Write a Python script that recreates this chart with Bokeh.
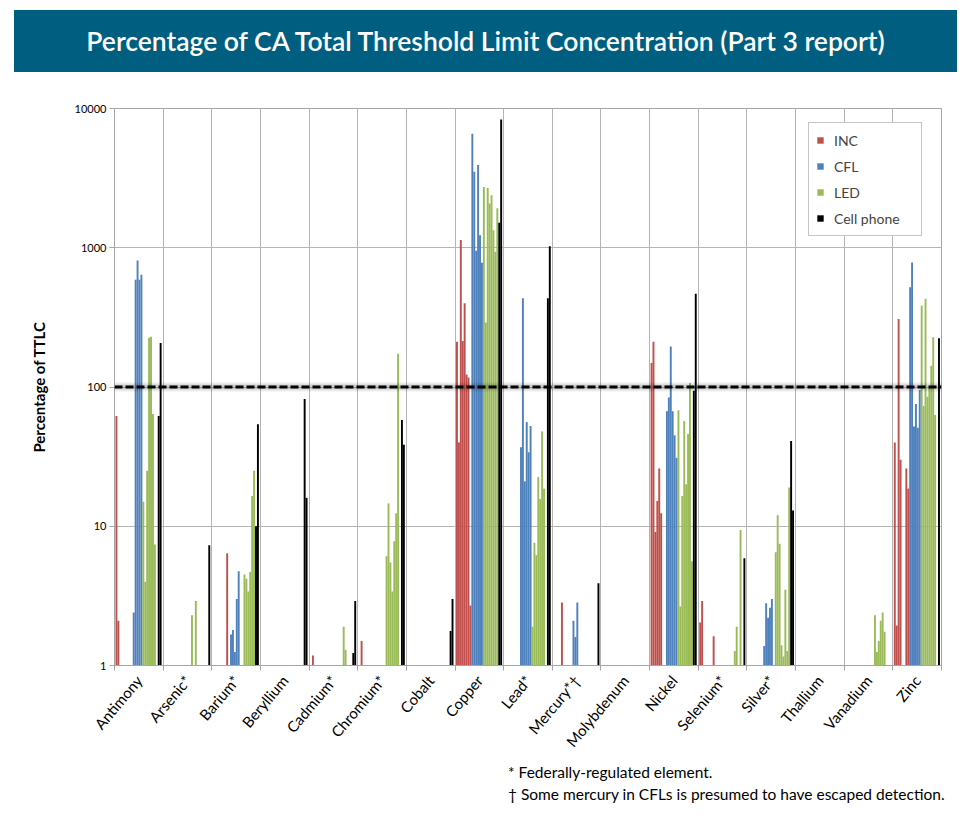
import math
from bokeh.plotting import figure
from bokeh.models import (ColumnDataSource, Range1d, FixedTicker, Span, Legend,
                          LegendItem, Div, PrintfTickFormatter)
from bokeh.layouts import column
from bokeh.embed import file_html
from bokeh.resources import INLINE

title_text = "Percentage of CA Total Threshold Limit Concentration (Part 3 report)"
y_title = "Percentage of TTLC"
note_1 = "* Federally-regulated element."
note_2 = "\u2020 Some mercury in CFLs is presumed to have escaped detection."

elements = ["Antimony", "Arsenic*", "Barium*", "Beryllium", "Cadmium*", "Chromium*",
            "Cobalt", "Copper", "Lead*", "Mercury*\u2020", "Molybdenum", "Nickel",
            "Selenium*", "Silver*", "Thallium", "Vanadium", "Zinc"]
series_names = ["INC", "CFL", "LED", "Cell phone"]
samples_per_series = [8, 6, 8, 2]
series_colors = ["#c0504d", "#4f81bd", "#9bbb59", "#000000"]
threshold = 100
y_ticks = [1, 10, 100, 1000, 10000]

# % of TTLC per sample: INC x8 | CFL x6 | LED x8 | Cell phone x2  (0 = below 1 %)
antimony   = [62, 2.1, 0, 0, 0, 0, 0, 0,        0, 2.4, 590, 810, 590, 640,        15, 4.0, 25, 226, 230, 64, 7.4, 0,      62, 207]
arsenic    = [0, 0, 0, 0, 0, 0, 0, 0,           0, 0, 0, 0, 0, 0,                  2.3, 0, 2.9, 0, 0, 0, 0, 0,              0, 7.3]
barium     = [0, 0, 0, 0, 0, 0, 0, 6.4,         0, 1.67, 1.8, 1.25, 3.0, 4.75,     0, 0, 4.5, 4.2, 3.4, 4.7, 16.5, 25,      10, 54]
beryllium  = [0, 0, 0, 0, 0, 0, 0, 0,           0, 0, 0, 0, 0, 0,                  0, 0, 0, 0, 0, 0, 0, 0,                  82, 16]
cadmium    = [0, 1.18, 0, 0, 0, 0, 0, 0,        0, 0, 0, 0, 0, 0,                  0, 0, 0, 1.9, 1.3, 0, 0, 0,              1.23, 2.9]
chromium   = [0, 1.5, 0, 0, 0, 0, 0, 0,         0, 0, 0, 0, 0, 0,                  6.1, 14.6, 5.5, 3.4, 7.8, 12.4, 173, 0,  58, 38.5]
cobalt     = [0, 0, 0, 0, 0, 0, 0, 0,           0, 0, 0, 0, 0, 0,                  0, 0, 0, 0, 0, 0, 0, 0,                  1.77, 3.0]
copper     = [211, 40, 1135, 214, 400, 123, 117, 2.7,   6600, 3520, 950, 3930, 1230, 780,   2735, 290, 2690, 2075, 2380, 1335, 935, 1920,   1515, 8330]
lead       = [0, 0, 0, 0, 0, 0, 0, 0,           37, 433, 21, 56, 34, 52.5,         1.9, 7.6, 6.2, 22.6, 15.7, 48, 18.6, 0,  433, 1025]
mercury    = [0, 0, 0, 0, 2.84, 0, 0, 0,        0, 0, 2.1, 1.6, 2.84, 0,           0, 0, 0, 0, 0, 0, 0, 0,                  0, 3.9]
molybdenum = [0, 0, 0, 0, 0, 0, 0, 0,           0, 0, 0, 0, 0, 0,                  0, 0, 0, 0, 0, 0, 0, 0,                  0, 0]
nickel     = [149, 211, 9.1, 15.2, 26, 12.4, 0, 0,      67, 84, 195, 67, 45, 31,   68, 2.65, 16.5, 57, 20, 46, 107, 5.6,    94, 468]
selenium   = [2.04, 2.9, 0, 0, 0, 0, 0, 1.62,   0, 0, 0, 0, 0, 0,                  0, 0, 0, 0, 1.27, 1.9, 0, 9.4,           0, 5.9]
silver     = [0, 0, 0, 0, 0, 0, 0, 0,           1.38, 2.8, 2.2, 2.6, 3.0, 0,       6.5, 12, 7.5, 1.4, 1.16, 3.5, 1.27, 19,  41, 13]
thallium   = [0, 0, 0, 0, 0, 0, 0, 0,           0, 0, 0, 0, 0, 0,                  0, 0, 0, 0, 0, 0, 0, 0,                  0, 0]
vanadium   = [0, 0, 0, 0, 0, 0, 0, 0,           0, 0, 0, 0, 0, 0,                  0, 2.3, 1.25, 1.5, 2.1, 2.4, 1.75, 0,    0, 0]
zinc       = [40, 1.94, 308, 30, 0, 0, 26, 18.7,        521, 784, 52, 75.5, 51, 95,   383, 73, 430, 85, 100, 142, 228, 63,   0, 224]

element_values = [antimony, arsenic, barium, beryllium, cadmium, chromium, cobalt,
                  copper, lead, mercury, molybdenum, nickel, selenium, silver,
                  thallium, vanadium, zinc]

slot_w = 0.0395
group_offset = 0.02

FONT = "Lato"

p = figure(width=959, height=681, x_range=Range1d(0, len(elements)),
           y_range=Range1d(1, 10000), y_axis_type="log",
           output_backend="svg", toolbar_location=None,
           min_border_left=114, min_border_right=18, min_border_top=28,
           min_border_bottom=96)
p.outline_line_color = "#a6a6a6"
p.background_fill_color = "white"
p.border_fill_color = "white"

# bars, one renderer per product type
renderers = []
start = 0
for name, count, col in zip(series_names, samples_per_series, series_colors):
    xs, tops = [], []
    for i, vals in enumerate(element_values):
        for k in range(start, start + count):
            v = vals[k]
            if v and v > 1:
                xs.append(i + group_offset + (k + 0.5) * slot_w)
                tops.append(v)
    src = ColumnDataSource(dict(x=xs, top=tops))
    r = p.vbar(x="x", top="top", bottom=1, width=slot_w, source=src,
               fill_color=col, line_color=None)
    renderers.append(r)
    start += count

# threshold line with soft shadow
p.add_layout(Span(location=threshold, dimension="width", line_color="#000000",
                  line_alpha=0.08, line_width=9))
p.add_layout(Span(location=threshold, dimension="width", line_color="#000000",
                  line_alpha=0.12, line_width=5))
p.add_layout(Span(location=threshold, dimension="width", line_color="#000000",
                  line_width=3, line_dash="8 3"))

# axes
boundaries = list(range(len(elements) + 1))
centers = [i + 0.5 for i in range(len(elements))]
p.xaxis.ticker = FixedTicker(ticks=centers, minor_ticks=boundaries)
p.xaxis.major_label_overrides = {c: n for c, n in zip(centers, elements)}
p.xaxis.major_label_orientation = math.radians(50)
p.xaxis.major_tick_line_color = None
p.xaxis.minor_tick_out = 5
p.xaxis.minor_tick_in = 0
p.xaxis.minor_tick_line_color = "#a6a6a6"
p.xaxis.axis_line_color = "#a6a6a6"
p.xaxis.major_label_text_font = FONT
p.xaxis.major_label_text_font_size = "15px"
p.xaxis.major_label_text_color = "#000000"
p.xaxis.major_label_standoff = 6

p.yaxis.ticker = FixedTicker(ticks=y_ticks, minor_ticks=[])
p.yaxis.formatter = PrintfTickFormatter(format="%d")
p.yaxis.major_tick_out = 5
p.yaxis.major_tick_in = 0
p.yaxis.minor_tick_line_color = None
p.yaxis.major_tick_line_color = "#a6a6a6"
p.yaxis.axis_line_color = "#a6a6a6"
p.yaxis.major_label_text_font = FONT
p.yaxis.major_label_text_font_size = "11px"
p.yaxis.major_label_text_color = "#000000"
p.yaxis.major_label_standoff = 3
p.yaxis.axis_label = y_title
p.yaxis.axis_label_text_font = FONT
p.yaxis.axis_label_text_font_style = "bold"
p.yaxis.axis_label_text_font_size = "15px"
p.yaxis.axis_label_text_color = "#000000"
p.yaxis.axis_label_standoff = 24

p.xgrid.ticker = FixedTicker(ticks=boundaries)
p.xgrid.grid_line_color = "#b4b4b4"
p.ygrid.ticker = FixedTicker(ticks=y_ticks)
p.ygrid.grid_line_color = "#b4b4b4"

legend = Legend(items=[LegendItem(label=n, renderers=[r]) for n, r in zip(series_names, renderers)],
                location=(694, 429), orientation="vertical",
                glyph_width=8, glyph_height=8, label_height=20, spacing=6,
                padding=7, label_standoff=10, label_width=80,
                label_text_font=FONT, label_text_font_size="14px",
                border_line_color="#8c8c8c", border_line_width=1,
                background_fill_color="white", background_fill_alpha=1.0,
                margin=0)
p.add_layout(legend)

banner = Div(text=(f'<div style="margin:10px 0 0 14px;width:943px;height:62px;line-height:62px;'
                   f'background:#005e80;color:#ffffff;text-align:center;font-family:{FONT};'
                   f'font-size:26.5px;font-weight:600;white-space:nowrap;">{title_text}</div>'),
             width=959, height=80, margin=0)
notes = Div(text=(f'<div style="margin-left:508px;font-family:{FONT};font-size:15.5px;'
                  f'line-height:22px;color:#000000;white-space:nowrap;">{note_1}<br>{note_2}</div>'),
            width=959, height=66, margin=0)

layout = column(banner, p, notes, spacing=0, margin=0)
open("out.html", "w").write(file_html(layout, INLINE))
